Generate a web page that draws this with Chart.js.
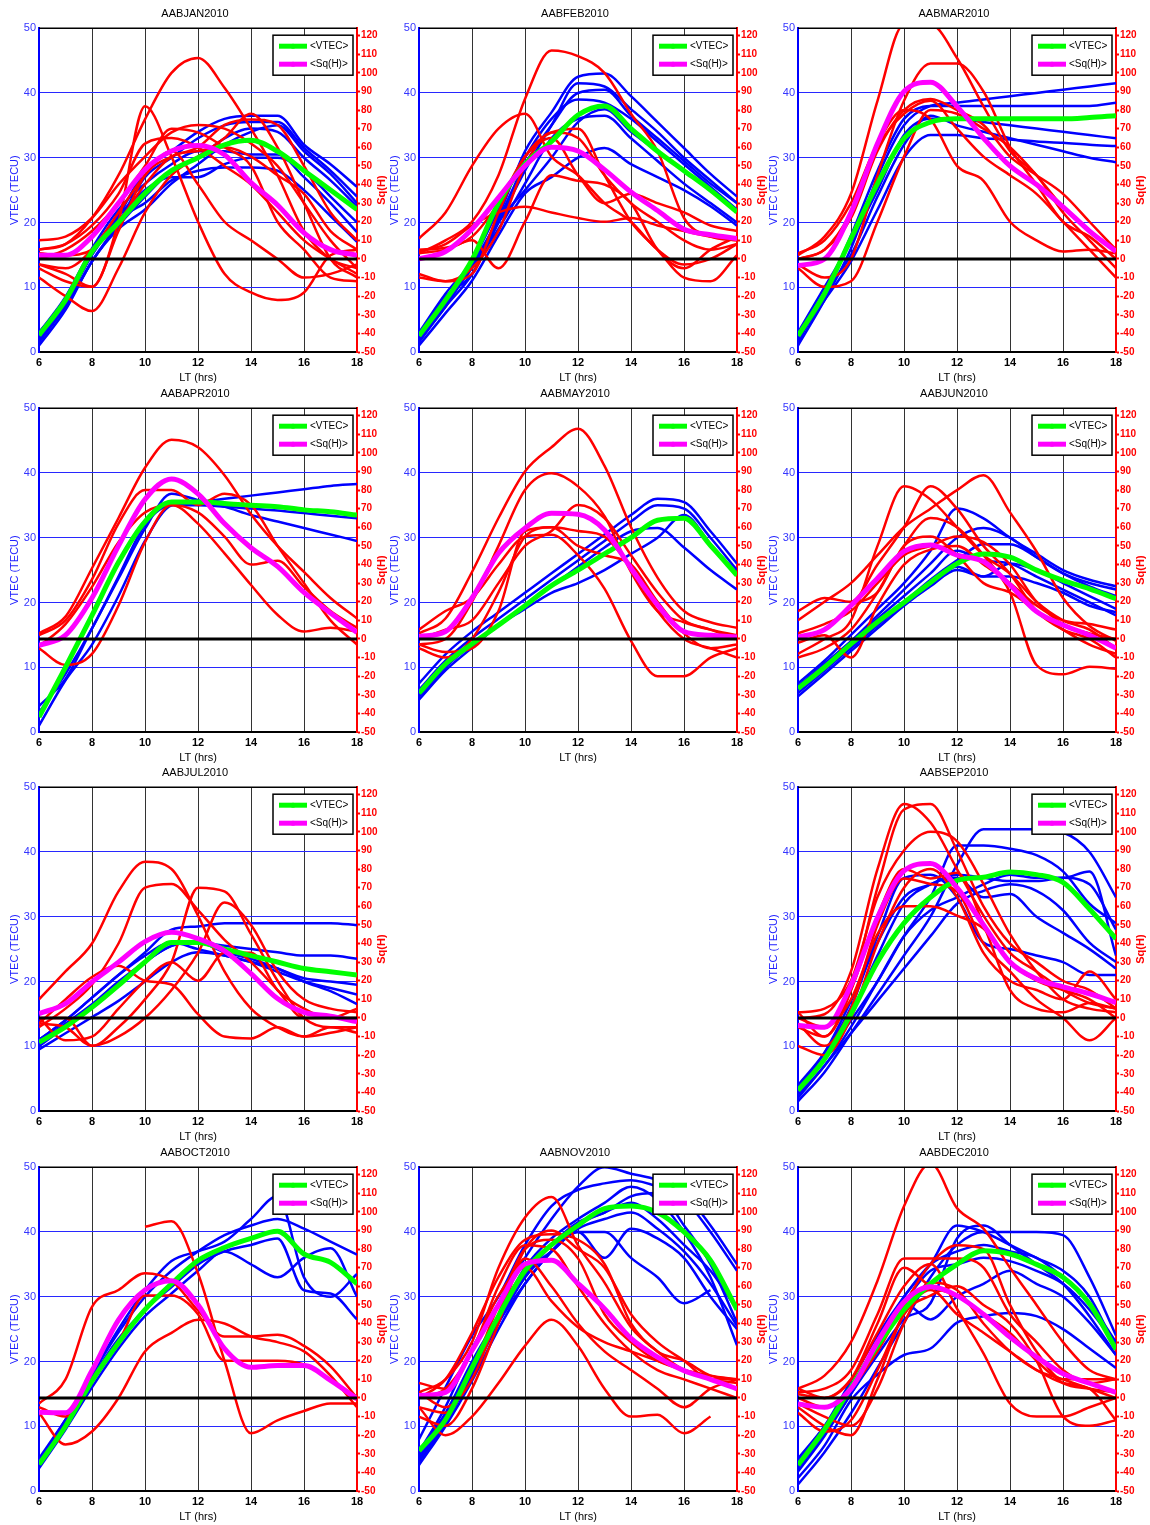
<!DOCTYPE html>
<html>
<head>
<meta charset="utf-8">
<script src="https://cdn.jsdelivr.net/npm/chart.js@4.4.0/dist/chart.umd.min.js"></script>
<style>
  body { margin: 0; background: #fff; width: 1150px; height: 1525px; position: relative; overflow: hidden; }
  canvas { position: absolute; }
</style>
</head>
<body>
<script>
// local time axis (hrs)
var HOURS = [6, 7, 8, 9, 10, 11, 12, 13, 14, 15, 16, 17, 18];
var SQ_TICKS = [-50, -40, -30, -20, -10, 0, 10, 20, 30, 40, 50, 60, 70, 80, 90, 100, 110, 120];
var ZERO_X = [6, 18];
var ZERO_Y = [0, 0];
var LEGEND_LABELS = ['<VTEC>', '<Sq(H)>'];

// ---- JAN
var JAN_VTEC_MEAN = [2.6, 8, 15.5, 20, 24.5, 28, 30, 32, 32.7, 31, 28, 25, 22];
var JAN_SQ_MEAN = [2, 2, 12, 30, 48, 58, 61, 56, 41, 29, 14, 5, 2];
var JAN_VTEC = [
  [3, 8, 15, 21, 28, 31, 34, 36, 36.5, 36.5, 32, 29, 25.5],
  [2, 7, 14, 20, 27, 30, 33, 35, 35.5, 35.5, 31.5, 28, 24],
  [1.5, 7, 14, 19.5, 24, 28, 30, 33, 34.5, 34, 30, 26.5, 22.5],
  [2.5, 8, 15.5, 21, 25, 27, 27, 29, 30, 30, 28, 24, 20],
  [3, 8.5, 16, 22, 26, 29, 31, 31, 30.5, 30.5, 27, 23, 18.5],
  [2, 7.5, 15, 20.5, 23, 26.5, 28, 28.5, 28.5, 28, 25, 21, 17],
  [1, 6.5, 14, 19, 22, 26, 29, 32, 34, 35, 31, 27.5, 23]
];
var JAN_SQ = [
  [5, 8, 22, 45, 75, 100, 108, 92, 70, 45, 15, 0, -5],
  [-3, -8, -15, 20, 82, 55, 20, -8, -18, -22, -18, 2, 5],
  [10, 12, 22, 40, 55, 68, 72, 70, 62, 50, 30, 10, -5],
  [-5, -12, -15, 15, 45, 55, 60, 72, 75, 72, 50, 25, 10],
  [0, 5, 15, 30, 50, 70, 68, 60, 50, 20, 5, -10, -12],
  [-10, -20, -28, -5, 25, 45, 55, 65, 78, 60, 30, 0, -10],
  [5, 8, 18, 35, 62, 65, 60, 50, 40, 25, 10, 0, -8],
  [3, 2, 5, 20, 40, 55, 58, 60, 55, 45, 35, 15, 5],
  [-3, -5, 5, 25, 45, 58, 40, 20, 10, 0, -10, -8, -3]
];

// ---- FEB
var FEB_VTEC_MEAN = [2.5, 8, 14.2, 23, 29, 32.5, 36.6, 38, 34.5, 31, 28, 25, 21.6];
var FEB_SQ_MEAN = [0, 4, 16, 33, 50, 60, 58, 48, 36, 26, 16, 13, 11];
var FEB_VTEC = [
  [2, 8, 13, 21, 31, 37, 42.5, 43, 39.5, 35.5, 31.5, 27.5, 24],
  [1.5, 7, 12, 20, 28, 35, 41.5, 41, 37.5, 34, 30, 26.5, 23],
  [3, 9, 14, 22, 30, 36, 39, 38.5, 36, 32.5, 29, 25.5, 22],
  [2, 7.5, 13, 19, 26, 33, 36, 36.5, 33, 29.5, 26, 23, 20],
  [1, 6, 11, 18, 24.5, 27, 30, 31.5, 29, 27, 25, 22.5, 19.5],
  [2.5, 8.5, 12, 20, 25, 30, 35.5, 37.5, 34, 31, 28, 25, 22],
  [2, 7, 13.5, 20.5, 29, 35, 40, 40.5, 36.5, 33, 29.5, 26, 23]
];
var FEB_SQ = [
  [3, 10, 20, 45, 86, 112, 109, 100, 78, 58, 22, 12, 10],
  [11, 25, 50, 70, 78, 55, 45, 30, 20, 5, -3, 0, 8],
  [-8, -12, -5, 15, 50, 68, 65, 45, 30, 20, 10, 5, 8],
  [-10, -12, -8, 25, 55, 68, 70, 45, 20, 5, -10, -12, 2],
  [4, 8, 18, 25, 28, 25, 22, 20, 22, 18, 15, 12, 10],
  [3, 5, 10, -5, 20, 45, 42, 40, 30, 5, -5, 5, 12],
  [5, 6, 12, 30, 55, 65, 45, 30, 35, 30, 25, 18, 15]
];

// ---- MAR
var MAR_VTEC_MEAN = [2.5, 9, 17.5, 26, 33, 35.5, 36, 36, 36, 36, 36, 36.2, 36.5];
var MAR_SQ_MEAN = [-3.5, 0, 25, 62, 90, 95, 82, 65, 50, 40, 28, 15, 4];
var MAR_VTEC = [
  [1, 8, 16, 27, 35, 38, 38.5, 39, 39.5, 40, 40.5, 41, 41.5],
  [2, 9, 18, 28, 36, 38, 38, 38, 38, 38, 38, 38, 38.5],
  [3, 10, 17, 25, 33.5, 36, 36, 35.5, 35, 34.5, 34, 33.5, 33],
  [2, 8, 14, 22, 30, 33.5, 33.5, 33, 32.8, 32.5, 32.3, 32, 31.8],
  [1.5, 9, 15, 24, 32, 36.5, 35, 34, 33, 32, 31, 30, 29.3]
];
var MAR_SQ = [
  [2, 12, 35, 85, 126, 126, 108, 82, 58, 45, 25, 10, -5],
  [-3, -10, 0, 45, 85, 105, 105, 90, 60, 40, 20, 12, 0],
  [-5, -15, -12, 20, 55, 80, 78, 70, 60, 45, 28, 15, 5],
  [0, 5, 25, 60, 78, 85, 70, 55, 45, 35, 20, 5, -10],
  [3, 10, 30, 62, 80, 75, 50, 42, 20, 10, 4, 5, 3],
  [0, 5, 22, 58, 80, 86, 80, 72, 55, 45, 35, 20, 5]
];

// ---- APR
var APR_VTEC_MEAN = [2.3, 10, 18, 26.2, 32.5, 35.5, 35.5, 35.3, 35, 34.8, 34.3, 34, 33.5];
var APR_SQ_MEAN = [-3.5, 2, 22, 50, 75, 86, 78, 62, 49, 39, 25, 14, 3.5];
var APR_VTEC = [
  [4, 8.2, 16, 23.7, 31.4, 36.8, 35.8, 34.8, 33.5, 32.5, 31.5, 30.5, 29.5],
  [1, 8, 13.5, 21, 29.5, 35, 35.5, 36, 36.5, 37, 37.5, 38, 38.3],
  [3, 9, 16, 24, 32, 35, 35, 34.8, 34.5, 34.2, 33.8, 33.4, 33]
];
var APR_SQ = [
  [3, 12, 38, 65, 92, 107, 103, 88, 67, 50, 36, 22, 11],
  [2, 10, 32, 62, 80, 80, 72, 78, 72, 50, 30, 10, -3],
  [-5, -14, -8, 18, 52, 72, 62, 46, 29, 13, 4, 6, 4],
  [-4, 8, 28, 52, 68, 72, 68, 55, 40, 42, 28, 15, 6]
];

// ---- MAY
var MAY_VTEC_MEAN = [6, 10.5, 13.6, 16.5, 19.5, 22.6, 25, 27.5, 30, 32.7, 33, 28.8, 24.2];
var MAY_SQ_MEAN = [1.3, 4, 22, 46, 59.5, 67.6, 67, 58.6, 38, 18.3, 4, 2, 1];
var MAY_VTEC = [
  [7.5, 12, 15.5, 18.5, 21.5, 24.5, 27.5, 30.5, 33.5, 36, 35.5, 31, 26],
  [6.5, 11, 14.5, 17.5, 20.5, 23.5, 26.5, 29.5, 32.5, 35, 34.5, 30, 25],
  [5, 9.5, 13, 16.5, 19.5, 22.5, 25.5, 28.5, 31, 31.5, 28.5, 25, 22],
  [5.5, 10, 13.5, 16.5, 19, 21.5, 23, 25, 27.5, 30, 33.5, 29, 24.5]
];
var MAY_SQ = [
  [3, 11, 36, 65, 90, 103, 113, 93, 60, 33, 15, 9, 6],
  [-3, 0, 20, 50, 80, 89, 82, 66, 36, 15, 9, 5, 2],
  [5, 15, 22, 40, 55, 56, 45, 27, -1, -20, -20, -10, -5],
  [-5, -10, 0, 25, 55, 60, 58, 55, 38, 15, 0, -5, -10],
  [0, 5, 10, 30, 50, 58, 72, 65, 45, 25, 10, 5, 0],
  [-3, -7, -5, 15, 58, 60, 50, 45, 40, 20, 3, -5, -3]
];

// ---- JUN
var JUN_VTEC_MEAN = [6.7, 10, 13.6, 17, 20, 23.1, 26, 27.5, 27, 25, 23.4, 22.1, 20.6];
var JUN_SQ_MEAN = [1, 5, 18, 32.6, 47, 50.5, 45, 41.6, 29, 14.7, 7.5, 2, -5];
var JUN_VTEC = [
  [7.5, 11, 15, 19, 23, 28, 34.5, 33, 30, 27.5, 25, 23.5, 22.5],
  [7, 10.5, 14, 18, 22, 26, 30, 31.5, 30, 27, 24.5, 23, 22],
  [6, 9.5, 13, 16.5, 20, 23.5, 26.5, 29, 29, 27, 24.5, 22.5, 21],
  [5.5, 9, 12.5, 16, 19.5, 22.5, 25, 24, 26, 25, 23, 21, 19],
  [7, 10.5, 14, 17.5, 21, 24.5, 28, 26.5, 26, 24, 22, 20, 18],
  [6.5, 10, 13, 16.5, 20, 23, 25.5, 24, 24, 23, 21.5, 19.5, 18.5]
];
var JUN_SQ = [
  [10, 20, 30, 45, 60, 70, 80, 88, 68, 47, 22, 7, -1],
  [-8, 0, 10, 50, 82, 75, 60, 45, 35, 20, 10, 5, -5],
  [-10, -5, 5, 25, 50, 65, 60, 45, 25, -14, -19, -15, -16],
  [3, 8, 15, 30, 45, 50, 55, 52, 40, 20, 8, 3, 0],
  [0, 5, 18, 25, 50, 55, 45, 30, 25, 15, 5, -3, -8],
  [-2, 2, -10, 18, 40, 48, 50, 40, 30, 18, 10, 8, 5],
  [15, 22, 20, 40, 60, 82, 70, 50, 35, 15, 5, 0, -10]
];

// ---- JUL
var JUL_VTEC_MEAN = [10.6, 13, 16, 19.4, 23, 26, 26, 25, 24, 23, 22, 21.5, 21];
var JUL_SQ_MEAN = [2.3, 7.7, 19.4, 30, 41, 46, 42.6, 36, 23.8, 10.4, 3, 1, -2];
var JUL_VTEC = [
  [11, 14, 17.5, 21, 24.5, 28, 28.5, 29, 29, 29, 29, 29, 28.7],
  [10, 13, 16, 19.5, 23, 25.5, 26, 25.5, 25, 24.5, 24, 24, 23.5],
  [9.5, 12, 14.5, 17, 20, 23, 24.5, 24, 23, 21.5, 20, 19, 18],
  [11, 14, 17.5, 21, 24, 26, 25, 24, 23, 22, 20, 18.5, 16.5],
  [10.5, 13.5, 16.5, 20, 23, 25.5, 26, 24.5, 23.5, 22, 20.5, 20, 19.5]
];
var JUL_SQ = [
  [10, 25, 40, 68, 84, 80, 55, 25, 5, -5, -10, -8, -5],
  [-5, 5, 18, 40, 70, 72, 58, 42, 30, 15, 0, 0, 5],
  [0, 0, -15, -5, 10, 30, 70, 68, 45, 20, 0, -5, -5],
  [-3, -5, -15, -10, 0, 15, 35, 62, 50, 25, 10, 5, 3],
  [0, -12, -10, 5, 20, 30, 20, 35, 35, 15, 5, 0, 0],
  [-3, 10, 22, 28, 20, 18, 2, -10, -11, -5, -10, -5, -8]
];

// ---- SEP
var SEP_VTEC_MEAN = [3.2, 8, 15, 23, 29, 33, 35.6, 36.1, 36.9, 36.5, 35.3, 31.2, 26.6];
var SEP_SQ_MEAN = [-4, -5, 17.6, 54, 79, 83, 70, 50, 30, 21, 16.7, 13, 8.3];
var SEP_VTEC = [
  [1.5, 6, 12, 18, 24, 30, 38, 43.5, 43.5, 43.5, 43, 40, 33],
  [3, 8, 14, 20, 27, 33, 41, 41, 40.5, 39.5, 37, 32, 29],
  [4, 9, 16, 27, 36, 36.5, 33, 26, 25, 24, 23, 21, 21],
  [2.5, 7, 13, 20, 27, 31, 33, 35, 36.5, 36, 36, 37, 24],
  [3, 8, 15, 24, 32, 35, 36, 33, 33.5, 30, 27.5, 25, 22],
  [2, 7, 12, 17, 22, 27, 32, 34, 35, 34, 31, 26, 23],
  [3.5, 9, 17, 26, 33, 35, 36.5, 36, 35.5, 35.5, 36, 35, 28]
];
var SEP_SQ = [
  [0, 2, 25, 80, 115, 105, 80, 55, 35, 25, 15, 8, 5],
  [-5, -10, 15, 70, 112, 115, 90, 60, 40, 30, 20, 15, 5],
  [3, 5, 20, 65, 90, 100, 95, 72, 45, 25, 10, 5, 3],
  [-3, -15, 5, 50, 75, 72, 68, 40, 25, 10, 0, -12, 0],
  [-15, -20, 0, 40, 70, 80, 65, 35, 20, 15, 10, 25, 10],
  [0, -5, 10, 45, 60, 60, 55, 48, 30, 20, 15, 10, 0],
  [3, -10, 15, 55, 80, 75, 78, 50, 15, 5, 3, 8, 5]
];

// ---- OCT
var OCT_VTEC_MEAN = [4.1, 10, 17, 22.9, 28, 32, 35.6, 37.6, 39, 40.1, 36.6, 35.3, 32];
var OCT_SQ_MEAN = [-7.7, -8, 14.7, 42, 58, 63, 50, 26.5, 16.5, 17.4, 17.4, 9.4, -0.5];
var OCT_VTEC = [
  [4, 10.5, 18, 25, 31, 35.5, 37, 38.5, 42, 45.5, 33, 30, 33.5],
  [4.5, 11, 18, 24.5, 30, 34, 37, 39.5, 41, 42, 40.5, 38.5, 36.5],
  [3.5, 9.5, 16, 22, 27, 30.5, 34, 37, 35, 33, 36, 37.5, 30],
  [5, 11, 17.5, 23.5, 28, 31.5, 35, 37, 38, 39, 31, 30.5, 26.5]
];
var OCT_SQ = [
  [null, null, null, null, 92, 95, 67, 20, -19, -12, -7, -3, -3],
  [-3, 10, 49, 58, 67, 63, 47, 33, 33, 34, 28, 17, 0],
  [-8, -25, -18, 0, 25, 35, 42, 40, 33, 30, 25, 12, -5],
  [-5, -10, 10, 30, 55, 55, 45, 20, 20, 20, 18, 10, 0]
];

// ---- NOV
var NOV_VTEC_MEAN = [6.2, 11, 19, 27, 34, 38, 41, 43.6, 44, 43, 40, 35.6, 28];
var NOV_SQ_MEAN = [1.3, 3, 25.5, 50, 72, 74, 61.5, 48, 32, 22, 14.7, 10, 4.9];
var NOV_VTEC = [
  [8, 16, 24, 30, 38, 44, 46.5, 47.5, 48, 47, 45, 40, 34],
  [6, 13, 22, 29, 36, 42, 47, 50, 49, 48, 46, 41, 35],
  [5, 11, 18, 26, 33, 37, 40, 36, 40.5, 39, 36, 30, 25],
  [6, 12, 20, 27, 33.5, 37, 40, 40, 36, 33, 29, 31, null],
  [4, 10, 17, 25, 32, 37, 41, 43, 44.5, 42, 38, 34, 28],
  [5.5, 11.5, 19, 26.5, 33, 38, 41.5, 43, 45.5, 46, 41, 35, 26],
  [6, 12, 19.5, 27, 34.5, 39, 42, 44.5, 47, 45, 40, 33, 22.5],
  [4.5, 10.5, 18, 26, 32, 37, 40.5, 42, 43, 40.5, 37, 32, 25.5]
];
var NOV_SQ = [
  [3, 10, 30, 70, 97, 108, 82, 62, 38, 25, 15, 10, 8],
  [-5, -20, -10, 8, 28, 42, 28, 5, -10, -9, -19, -10, null],
  [0, 10, 35, 65, 85, 88, 85, 72, 40, 25, 20, 12, 10],
  [-5, -8, 15, 50, 80, 85, 75, 45, 30, 20, 15, 12, 10],
  [8, 5, 25, 60, 82, 80, 60, 40, 25, 15, 10, 5, 0],
  [-10, -15, 5, 40, 75, 60, 40, 25, 15, 5, -5, 5, 10],
  [0, 5, 25, 55, 70, 52, 38, 30, 25, 20, 15, 10, 5],
  [3, -5, 10, 45, 80, 90, 80, 70, 45, 30, 20, 10, 10]
];

// ---- DEC
var DEC_VTEC_MEAN = [4, 9.5, 16, 22.4, 28, 32, 35, 37.1, 36.6, 35, 33, 28.9, 21.9];
var DEC_SQ_MEAN = [-3.3, -5, 5, 30, 51.6, 59.7, 55, 45, 32.7, 22, 13, 7.9, 3];
var DEC_VTEC = [
  [1, 6, 12, 19, 26, 33, 38, 40, 40, 40, 39.5, 33, 24],
  [5, 10, 16, 23, 30, 35, 41, 40, 38, 36, 34, 30, 22],
  [3, 8.5, 15, 21, 26.5, 29, 39, 41, 38, 35, 32, 27, 21],
  [2, 7, 14, 18, 21, 22, 26, 27, 27.5, 27, 25, 22, 19],
  [4, 9, 15, 22, 29, 34, 35, 36, 35.5, 34, 32, 28, 22.5],
  [3.5, 9, 16, 23, 29, 26.5, 30, 32, 34, 32, 30, 26, 21],
  [4.5, 10, 17, 24, 30, 35, 37, 38, 37, 36, 33, 29, 23]
];
var DEC_SQ = [
  [5, 12, 30, 63, 103, 126, 102, 91, 70, 50, 30, 15, 10],
  [5, 0, 10, 35, 60, 72, 48, 24, -3, -10, -10, -5, 0],
  [-5, -15, -20, 10, 45, 55, 60, 50, 40, 20, -10, -15, -12],
  [3, 5, 15, 45, 75, 75, 75, 70, 45, 30, 15, 8, 10],
  [-3, -10, -15, 5, 40, 62, 58, 40, 25, 15, 10, 5, 0],
  [0, -5, 5, 25, 50, 72, 82, 80, 50, 25, 10, 10, 10],
  [-8, -18, -12, 15, 45, 58, 45, 35, 25, 15, 8, 5, -12],
  [2, 0, 10, 40, 70, 60, 55, 45, 35, 20, 8, 5, 3]
];

// panel grid: month, column, row
var MONTHS = ['JAN', 'FEB', 'MAR', 'APR', 'MAY', 'JUN', 'JUL', 'SEP', 'OCT', 'NOV', 'DEC'];
var SLOT_COL = [0, 1, 2, 0, 1, 2, 0, 2, 0, 1, 2];
var SLOT_ROW = [0, 0, 0, 1, 1, 1, 2, 2, 3, 3, 3];

var DATA = {
  JAN: [JAN_VTEC, JAN_SQ, JAN_VTEC_MEAN, JAN_SQ_MEAN],
  FEB: [FEB_VTEC, FEB_SQ, FEB_VTEC_MEAN, FEB_SQ_MEAN],
  MAR: [MAR_VTEC, MAR_SQ, MAR_VTEC_MEAN, MAR_SQ_MEAN],
  APR: [APR_VTEC, APR_SQ, APR_VTEC_MEAN, APR_SQ_MEAN],
  MAY: [MAY_VTEC, MAY_SQ, MAY_VTEC_MEAN, MAY_SQ_MEAN],
  JUN: [JUN_VTEC, JUN_SQ, JUN_VTEC_MEAN, JUN_SQ_MEAN],
  JUL: [JUL_VTEC, JUL_SQ, JUL_VTEC_MEAN, JUL_SQ_MEAN],
  SEP: [SEP_VTEC, SEP_SQ, SEP_VTEC_MEAN, SEP_SQ_MEAN],
  OCT: [OCT_VTEC, OCT_SQ, OCT_VTEC_MEAN, OCT_SQ_MEAN],
  NOV: [NOV_VTEC, NOV_SQ, NOV_VTEC_MEAN, NOV_SQ_MEAN],
  DEC: [DEC_VTEC, DEC_SQ, DEC_VTEC_MEAN, DEC_SQ_MEAN]
};

var COL_LEFT = [0, 380, 759];
var ROW_TOP = [0, 380, 759, 1139];
var FONT = '"Liberation Sans", Arial, sans-serif';

function pts(ys) {
  return HOURS.map(function (h, i) { return { x: h, y: ys[i] }; });
}

// frame top line, legend box and right axis label
var panelDecor = {
  id: 'panelDecor',
  afterDatasetsDraw: function (chart) {
    var ctx = chart.ctx, a = chart.chartArea;
    ctx.save();
    ctx.strokeStyle = '#000';
    ctx.lineWidth = 1.5;
    ctx.beginPath(); ctx.moveTo(a.left, a.top); ctx.lineTo(a.right, a.top); ctx.stroke();

    var bx = a.right - 84, by = a.top + 7, bw = 80, bh = 40;
    ctx.fillStyle = '#fff';
    ctx.fillRect(bx, by, bw, bh);
    ctx.lineWidth = 1.5;
    ctx.strokeRect(bx, by, bw, bh);
    var cols = ['#00ff00', '#ff00ff'];
    LEGEND_LABELS.forEach(function (lab, i) {
      var y = by + 11 + i * 18;
      ctx.strokeStyle = cols[i];
      ctx.lineWidth = 5;
      ctx.beginPath(); ctx.moveTo(bx + 6, y); ctx.lineTo(bx + 34, y); ctx.stroke();
      ctx.fillStyle = cols[i];
      ctx.beginPath(); ctx.arc(bx + 20, y, 2.5, 0, 2 * Math.PI); ctx.fill();
      ctx.fillStyle = '#000';
      ctx.font = '10px ' + FONT;
      ctx.textBaseline = 'middle';
      ctx.textAlign = 'left';
      ctx.fillText(lab, bx + 37, y);
    });

    ctx.translate(a.right + 24.5, (a.top + a.bottom) / 2);
    ctx.rotate(-Math.PI / 2);
    ctx.fillStyle = '#ff0000';
    ctx.font = 'bold 11px ' + FONT;
    ctx.textAlign = 'center';
    ctx.textBaseline = 'middle';
    ctx.fillText('Sq(H)', 0, 0);
    ctx.restore();
  }
};

MONTHS.forEach(function (m, k) {
  var d = DATA[m];
  var canvas = document.createElement('canvas');
  canvas.width = 390;
  canvas.height = 388;
  canvas.style.left = COL_LEFT[SLOT_COL[k]] + 'px';
  canvas.style.top = ROW_TOP[SLOT_ROW[k]] + 'px';
  document.body.appendChild(canvas);

  var datasets = [];
  datasets.push({
    data: ZERO_X.map(function (x, i) { return { x: x, y: ZERO_Y[i] }; }),
    yAxisID: 'y2', borderColor: '#000', borderWidth: 3, order: 0
  });
  datasets.push({ data: pts(d[3]), yAxisID: 'y2', borderColor: '#ff00ff', borderWidth: 5, order: 1 });
  datasets.push({ data: pts(d[2]), yAxisID: 'y', borderColor: '#00ff00', borderWidth: 5, order: 2 });
  d[1].forEach(function (s) {
    datasets.push({ data: pts(s), yAxisID: 'y2', borderColor: '#ff0000', borderWidth: 2.5, order: 3 });
  });
  d[0].forEach(function (s) {
    datasets.push({ data: pts(s), yAxisID: 'y', borderColor: '#0000ff', borderWidth: 2.5, order: 4 });
  });

  new Chart(canvas.getContext('2d'), {
    type: 'line',
    data: { datasets: datasets },
    options: {
      responsive: false,
      animation: false,
      events: [],
      layout: { padding: 0 },
      elements: {
        point: { radius: 0 },
        line: { cubicInterpolationMode: 'monotone', fill: false }
      },
      plugins: {
        legend: { display: false },
        tooltip: { enabled: false },
        title: {
          display: true,
          text: 'AAB' + m + '2010',
          color: '#000',
          font: { family: FONT, size: 11, weight: 'normal' },
          padding: { top: 7, bottom: 8 }
        }
      },
      scales: {
        x: {
          type: 'linear', min: 6, max: 18,
          afterFit: function (s) { s.height = 36; },
          ticks: { stepSize: 2, color: '#000', padding: 4, maxRotation: 0, font: { family: FONT, size: 11, weight: 'bold' } },
          grid: {
            drawTicks: false, lineWidth: 1,
            color: function (c) { return (c.tick && (c.tick.value === 6 || c.tick.value === 18)) ? 'rgba(0,0,0,0)' : '#333'; }
          },
          border: { color: '#000', width: 2 },
          title: { display: true, text: 'LT (hrs)', color: '#000', font: { family: FONT, size: 11 }, padding: { top: 0, bottom: 3 } }
        },
        y: {
          position: 'left', min: 0, max: 50,
          afterFit: function (s) { s.width = 39; },
          ticks: { stepSize: 10, color: '#3535ff', padding: 3, font: { family: FONT, size: 11 } },
          grid: {
            drawTicks: false, lineWidth: 1,
            color: function (c) { return (c.tick && (c.tick.value === 0 || c.tick.value === 50)) ? 'rgba(0,0,0,0)' : '#2828ff'; }
          },
          border: { color: '#0000ff', width: 2 },
          title: { display: true, text: 'VTEC (TECU)', color: '#2020ff', font: { family: FONT, size: 11 }, padding: { top: 8, bottom: 0 } }
        },
        y2: {
          position: 'right', min: -50, max: 124,
          afterFit: function (s) { s.width = 33; },
          afterBuildTicks: function (s) { s.ticks = SQ_TICKS.map(function (v) { return { value: v }; }); },
          ticks: { autoSkip: false, color: '#ff0000', padding: 1, font: { family: FONT, size: 10, weight: 'bold' } },
          grid: { drawOnChartArea: false, drawTicks: true, tickLength: 3, tickWidth: 2, color: '#ff0000' },
          border: { color: '#ff0000', width: 2 }
        }
      }
    },
    plugins: [panelDecor]
  });
});
</script>
</body>
</html>
